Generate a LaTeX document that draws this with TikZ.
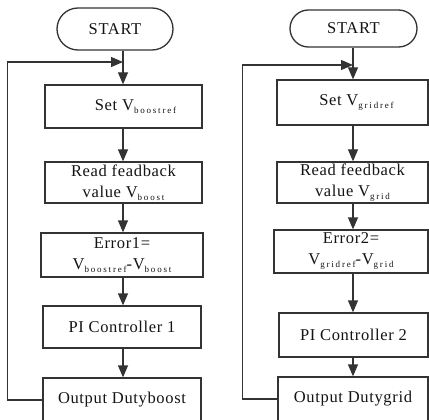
\documentclass[tikz,border=0pt]{standalone}
\usepackage{fontspec}
\setmainfont{Liberation Serif}[LetterSpace=4]
\newfontfamily\subfont{Liberation Serif}[LetterSpace=20]
\usetikzlibrary{arrows.meta,shapes.misc}

% V with a small, widely spaced lowered index
\newcommand{\vsub}[1]{V\raisebox{-3pt}{\subfont\fontsize{9}{9}\selectfont #1}}

\definecolor{linec}{HTML}{333333}
\definecolor{textc}{HTML}{141414}

\tikzset{
  box/.style={draw=linec, line width=1.3pt, fill=white, inner sep=0pt,
    align=center, text=textc, font=\fontsize{16.5}{21}\selectfont},
  startbox/.style={box, rounded rectangle},
  flow/.style={draw=linec, line width=1.3pt, -{Triangle[length=12pt,width=10pt]}},
  plain/.style={draw=linec, line width=1.3pt}
}

\begin{document}
\begin{tikzpicture}[x=1pt,y=-1pt]
\useasboundingbox (0,0) rectangle (429,420);
\clip (0,0) rectangle (429,420);

% ---------- boost converter loop ----------
\node[startbox, minimum width=116pt, minimum height=42pt] (s1) at (115,29) {START};
\node[box, minimum width=157pt, minimum height=43pt] (a1) at (123.5,106.5) {\hspace*{24pt}Set \vsub{boostref}};
\node[box, minimum width=157pt, minimum height=41pt] (b1) at (123.5,182.5) {Read feadback\\value \vsub{boost}};
\node[box, minimum width=162pt, minimum height=44pt] (c1) at (122,255) {Error1=\\\vsub{boostref}-\vsub{boost}};
\node[box, minimum width=158pt, minimum height=42pt] (d1) at (122,327) {PI Controller 1};
\node[box, minimum width=158pt, minimum height=44pt] (e1) at (122,400) {Output Dutyboost};

\coordinate (x1) at (123,0);
\coordinate (j1) at (123,62);
\draw[flow] (x1 |- s1.south) -- (x1 |- a1.north);
\draw[flow] (x1 |- a1.south) -- (x1 |- b1.north);
\draw[flow] (x1 |- b1.south) -- (x1 |- c1.north);
\draw[flow] (x1 |- c1.south) -- (x1 |- d1.north);
\draw[flow] (x1 |- d1.south) -- (x1 |- e1.north);
\draw[flow] (e1.west) -- ++(-35,0) |- (j1);

% ---------- grid inverter loop ----------
\node[startbox, minimum width=127pt, minimum height=37pt] (s2) at (353.5,28.5) {START};
\node[box, minimum width=151pt, minimum height=45pt] (a2) at (352.5,102.5) {\hspace*{8pt}Set \vsub{gridref}};
\node[box, minimum width=151pt, minimum height=41pt] (b2) at (352.5,182.5) {Read feedback\\value \vsub{grid}};
\node[box, minimum width=154pt, minimum height=43pt] (c2) at (351,251.5) {Error2=\\\vsub{gridref}-\vsub{grid}};
\node[box, minimum width=149pt, minimum height=44pt] (d2) at (353.5,335) {PI Controller 2};
\node[box, minimum width=150pt, minimum height=44pt] (e2) at (353,399) {Output Dutygrid};

\coordinate (x2) at (353,0);
\coordinate (j2) at (353,65);
\draw[flow] (x2 |- s2.south) -- (x2 |- a2.north);
\draw[flow] (x2 |- a2.south) -- (x2 |- b2.north);
\draw[flow] (x2 |- b2.south) -- (x2 |- c2.north);
\draw[flow] (x2 |- c2.south) -- (x2 |- d2.north);
\draw[flow] (x2 |- d2.south) -- (x2 |- e2.north);
\draw[flow] (e2.west) -- ++(-35,0) |- (j2);
\end{tikzpicture}
\end{document}
